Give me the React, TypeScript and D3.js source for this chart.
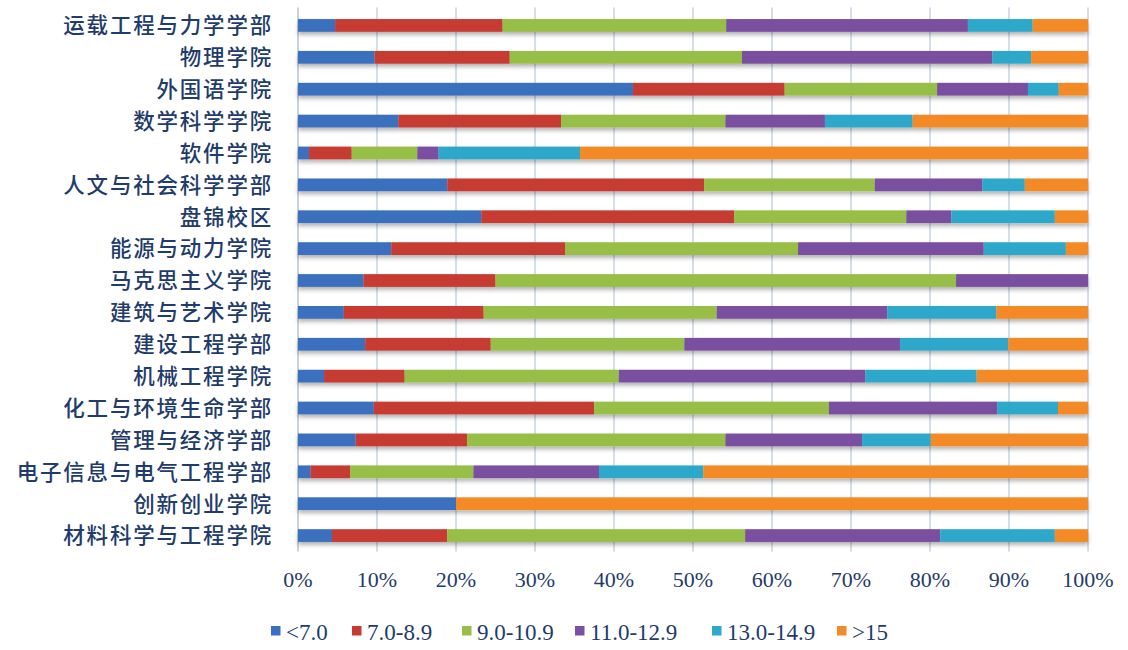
import React from "react";
import * as d3 from "d3";

const categories = [
  "运载工程与力学学部",
  "物理学院",
  "外国语学院",
  "数学科学学院",
  "软件学院",
  "人文与社会科学学部",
  "盘锦校区",
  "能源与动力学院",
  "马克思主义学院",
  "建筑与艺术学院",
  "建设工程学部",
  "机械工程学院",
  "化工与环境生命学部",
  "管理与经济学部",
  "电子信息与电气工程学部",
  "创新创业学院",
  "材料科学与工程学院",
];

const seriesNames = ["<7.0", "7.0-8.9", "9.0-10.9", "11.0-12.9", "13.0-14.9", ">15"];

const below7 = [4.7, 9.7, 42.4, 12.7, 1.4, 18.9, 23.2, 11.8, 8.3, 5.8, 8.5, 3.3, 9.6, 7.3, 1.6, 20.0, 4.3];
const from7to89 = [21.2, 17.1, 19.2, 20.6, 5.4, 32.5, 32.0, 22.0, 16.7, 17.7, 15.9, 10.2, 27.9, 14.1, 5.0, 0, 14.6];
const from9to109 = [28.3, 29.4, 19.3, 20.8, 8.3, 21.6, 21.8, 29.5, 58.3, 29.5, 24.5, 27.1, 29.7, 32.7, 15.6, 0, 37.7];
const from11to129 = [30.6, 31.7, 11.5, 12.6, 2.7, 13.6, 5.7, 23.5, 16.7, 21.6, 27.3, 31.2, 21.3, 17.3, 15.9, 0, 24.7];
const from13to149 = [8.2, 4.9, 3.9, 11.1, 17.9, 5.4, 13.1, 10.4, 0, 13.8, 13.7, 14.1, 7.7, 8.7, 13.2, 0, 14.5];
const above15 = [7.0, 7.2, 3.7, 22.2, 64.3, 8.0, 4.2, 2.8, 0, 11.6, 10.1, 14.1, 3.8, 19.9, 48.7, 80.0, 4.2];

const tickValues = [0, 0.1, 0.2, 0.3, 0.4, 0.5, 0.6, 0.7, 0.8, 0.9, 1.0];

const colors = ["#3b6fbf", "#c63a33", "#97be46", "#7a50a0", "#2fa8ca", "#f38a26"];

const W = 1128;
const H = 650;
const left = 298;
const right = 1088;
const top = 9.5;
const bottom = 551.5;
const textColor = "#1f3c6b";

export default function App() {
  const seriesData = [below7, from7to89, from9to109, from11to129, from13to149, above15];
  const rows = categories.map((c, i) => {
    const row: Record<string, any> = { cat: c };
    seriesNames.forEach((s, j) => (row[s] = seriesData[j][i]));
    return row;
  });
  const stacked = d3.stack<any>().keys(seriesNames).offset(d3.stackOffsetExpand)(rows);

  const x = d3.scaleLinear().domain([0, 1]).range([left, right]);
  const y = d3
    .scaleBand<string>()
    .domain(categories)
    .range([top, bottom])
    .paddingInner(0.6)
    .paddingOuter(0.3);
  const fmt = d3.format(".0%");

  const legendX = [271, 352, 462, 575, 712, 837];

  return (
    <svg width={W} height={H} style={{ position: "absolute", left: 0, top: 0, background: "#fff" }}>
      <defs>
        <filter id="shadow" x="-5%" y="-50%" width="110%" height="250%">
          <feDropShadow dx="0" dy="3" stdDeviation="2" floodColor="#000" floodOpacity="0.3" />
        </filter>
      </defs>
      {/* gridlines */}
      {tickValues.map((t, i) => (
        <line
          key={"g" + i}
          x1={x(t)}
          x2={x(t)}
          y1={top - 2}
          y2={bottom}
          stroke={i === 0 ? "#c9d3de" : "#d5dee9"}
          strokeWidth={2}
        />
      ))}
      {/* bars */}
      <g filter="url(#shadow)">
        {stacked.map((layer, li) =>
          layer.map((d, i) =>
            d[1] - d[0] > 0 ? (
              <rect
                key={li + "-" + i}
                x={x(d[0])}
                y={y(categories[i])}
                width={x(d[1]) - x(d[0])}
                height={y.bandwidth()}
                fill={colors[li]}
              />
            ) : null
          )
        )}
      </g>
      {/* category labels */}
      {categories.map((c) => (
        <text
          key={c}
          x={273}
          y={(y(c) as number) + y.bandwidth() / 2 + 2}
          textAnchor="end"
          dominantBaseline="middle"
          fontFamily="'Noto Sans CJK SC', sans-serif"
          fontSize={21.5}
          fontWeight={500}
          letterSpacing={1.8}
          fill={textColor}
        >
          {c}
        </text>
      ))}
      {/* x tick labels */}
      {tickValues.map((t, i) => (
        <text
          key={"t" + i}
          x={x(t)}
          y={587}
          textAnchor="middle"
          fontFamily="'Liberation Serif', 'Times New Roman', serif"
          fontSize={22}
          fill={textColor}
        >
          {fmt(t)}
        </text>
      ))}
      {/* legend */}
      {seriesNames.map((s, i) => (
        <g key={"l" + i}>
          <rect x={legendX[i]} y={626} width={9.5} height={9.5} fill={colors[i]} />
          <text
            x={legendX[i] + 15}
            y={640}
            fontFamily="'Liberation Serif', 'Times New Roman', serif"
            fontSize={23}
            fill={textColor}
          >
            {s}
          </text>
        </g>
      ))}
    </svg>
  );
}
